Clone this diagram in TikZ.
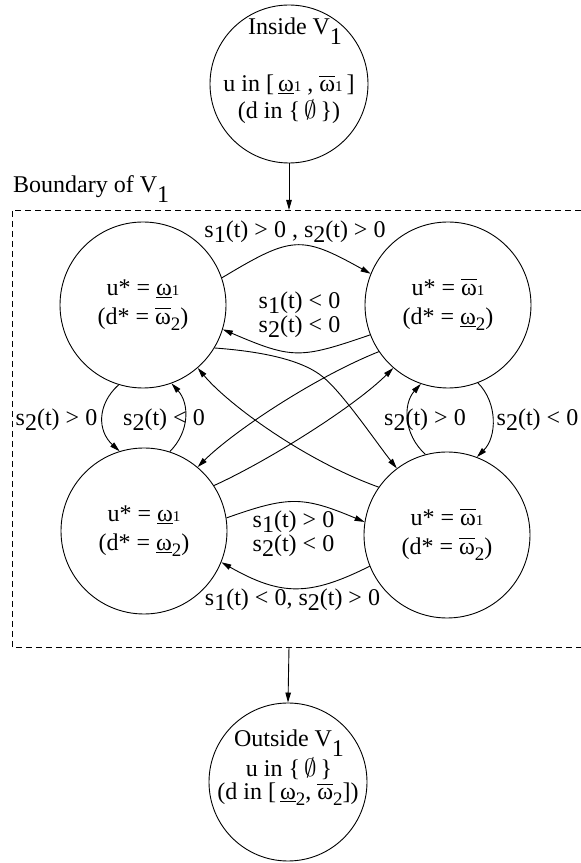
\documentclass[tikz,border=0pt]{standalone}
\usepackage{fontspec}
\setmainfont{Liberation Serif}
\usetikzlibrary{arrows.meta}
\newcommand\ssub[1]{\raisebox{-0.22em}{#1}}
\newcommand\vsub[1]{\raisebox{-0.4em}{#1}}
\newcommand\wsub[1]{\raisebox{-0.25em}{\fontsize{19}{19}\selectfont #1}}
\newcommand\wone{{\fontsize{15}{15}\selectfont 1}}
\newcommand\wlo{\underline{ω}}
\newcommand\whi{$\overline{\hbox{ω\rule{0pt}{0.62em}}}$}
\newcommand\emptyst{$\emptyset$}
\begin{document}
\begin{tikzpicture}[x=1pt,y=1pt,
  every node/.style={font=\fontsize{24}{29}\selectfont},
  state/.style={draw, circle, line width=0.9pt, minimum size=166pt, inner sep=0pt, align=center},
  term/.style={draw, circle, line width=0.9pt, minimum size=158pt, inner sep=0pt},
  edge/.style={line width=0.9pt, -{Triangle[length=10pt,width=5.5pt]}},
  lbl/.style={inner sep=0pt, align=center, font=\fontsize{24}{24}\selectfont},
  txt/.style={inner sep=0pt, anchor=base},
]
\fill[white] (0,0) rectangle (581,863);
\useasboundingbox (0,0) rectangle (581,863);
% terminal circles
\node[term] (inside) at (289,779) {};
\node[txt] (insideA) at (295,828) {Inside V\vsub{1}};
\node[txt] (insideB) at (289,771) {\raisebox{0pt}[\height][0pt]{u in [\,\wlo\wone\ , \whi\wone\,]}};
\node[txt] (insideC) at (289,744) {(d in \{\,\emptyst\,\})};
\node[term] (outside) at (288,81) {};
\node[txt] (outsideA) at (289,116) {Outside V\vsub{1}};
\node[txt] (outsideB) at (289,86) {u in \{\,\emptyst\,\}};
\node[txt] (outsideC) at (288,63) {(d in [\,\wlo\wsub{2}, \whi\wsub{2}])};
% boundary box
\draw[dash pattern=on 6pt off 4pt, line width=0.8pt] (581,653) -- (12,653) -- (12,216) -- (581,216);
\node[inner sep=0pt, anchor=base west] (bnd) at (13,670) {Boundary of V\vsub{1}};
\coordinate (boxtop) at (289,653);
\coordinate (boxbot) at (289,216);
\draw[edge] (inside.south) -- (boxtop);
\draw[edge] (boxbot) -- (outside.north);
% states
\node[state] (TL) at (143,558) {u* = \wlo\wone\\(d* = \whi\wsub{2})};
\node[state] (TR) at (448,558) {u* = \whi\wone\\(d* = \wlo\wsub{2})};
\node[state] (BL) at (144,332) {u* = \wlo\wone\\(d* = \wlo\wsub{2})};
\node[state] (BR) at (447,328) {u* = \whi\wone\\(d* = \whi\wsub{2})};
% horizontal edges
\draw[edge] (TL.19) .. controls +(70,42) and +(-70,39) .. (TR.158);
\draw[edge] (TR.201) .. controls +(-70,-24) and +(70,-30) .. (TL.343);
\draw[edge] (BL.9) .. controls +(62,22) and +(-62,26) .. (BR.171);
\draw[edge] (BR.202) .. controls +(-60,-30) and +(60,-34) .. (BL.338);
% vertical edges
\draw[edge] (TL.253) .. controls +(-22,-20) and +(-22,20) .. (BL.107);
\draw[edge] (BL.72) .. controls +(20,20) and +(18,-20) .. (TL.290);
\draw[edge] (BR.105) .. controls +(-22,20) and +(-18,-20) .. (TR.251);
\draw[edge] (TR.291) .. controls +(20,-20) and +(20,20) .. (BR.69);
% diagonals
\draw[edge] (TL.329) .. controls +(40,-3) and (300,505) .. (323,486)
  .. controls (342.5,470.3) and (376,421) .. (BR.127);
\draw[edge] (TR.214) .. controls +(-65,-26) and +(35,35) .. (BL.50);
\draw[edge] (BL.33) .. controls +(55,25) and +(-38,-38) .. (TR.229);
\draw[edge] (BR.145) .. controls +(-75,27) and +(30,-36) .. (TL.311);
% labels
\node[lbl] (l1) at (295,631) {s\ssub{1}(t) > 0 , s\ssub{2}(t) > 0};
\node[lbl] (l2) at (299.5,548) {s\ssub{1}(t) < 0\\s\ssub{2}(t) < 0};
\node[lbl] (l3) at (56.5,443) {s\ssub{2}(t) > 0};
\node[lbl] (l4) at (164,443) {s\ssub{2}(t) < 0};
\node[lbl] (l5) at (425,443) {s\ssub{2}(t) > 0};
\node[lbl] (l6) at (537.5,443) {s\ssub{2}(t) < 0};
\node[lbl] (l7) at (293.5,329.5) {s\ssub{1}(t) > 0\\s\ssub{2}(t) < 0};
\node[lbl] (l8) at (292.5,263) {s\ssub{1}(t) < 0, s\ssub{2}(t) > 0};
\end{tikzpicture}
\end{document}
